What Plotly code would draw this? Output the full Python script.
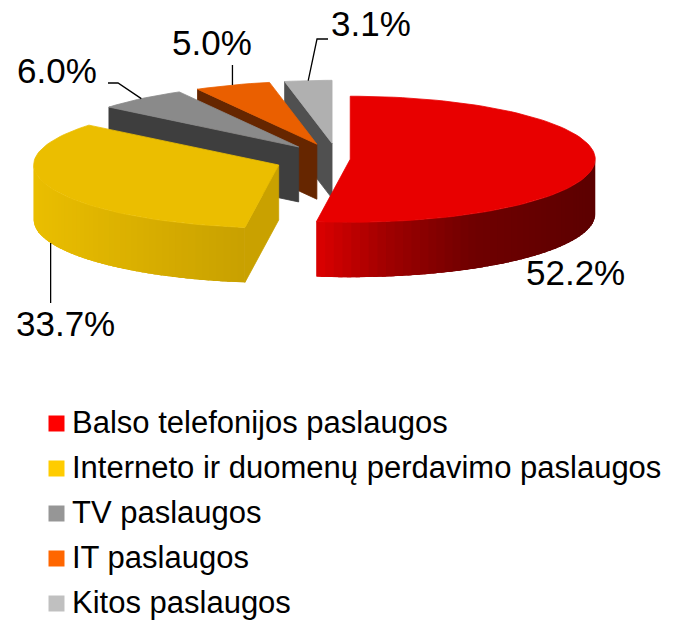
import numpy as np
import plotly.graph_objects as go

# ---------------- data ----------------
labels = ["Balso telefonijos paslaugos",
          "Interneto ir duomenų perdavimo paslaugos",
          "TV paslaugos",
          "IT paslaugos",
          "Kitos paslaugos"]
values = [52.2, 33.7, 6.0, 5.0, 3.1]
pct_text = ["52.2%", "33.7%", "6.0%", "5.0%", "3.1%"]

# ---------------- styles ----------------
legend_colors = ["#FF0000", "#FFCC00", "#969696", "#FF6600", "#C0C0C0"]
top_colors = ["#E80000", "#EBBE00", "#8A8A8A", "#EA5F00", "#B0B0B0"]
cut_colors = ["#B00000", "#C9A100", "#3E3E3E", "#662600", "#505050"]
side_stops = [
    [(0.0, (220, 0, 0)), (0.25, (160, 0, 0)), (0.55, (112, 0, 0)), (1.0, (92, 0, 0))],
    [(0.0, (234, 190, 0)), (1.0, (200, 160, 0))],
    [(0.0, (110, 110, 110)), (1.0, (70, 70, 70))],
    [(0.0, (200, 80, 0)), (1.0, (120, 45, 0))],
    [(0.0, (150, 150, 150)), (1.0, (100, 100, 100))],
]
pull = [0.05, 0.26, 0.25, 0.25, 0.25]

# pie geometry (pixel space of the 683x622 canvas)
W, H = 683, 622
O = (338.0, 159.0)
RX, RY, DEPTH = 245.0, 63.0, 55.0
FONT = "Liberation Sans, Arial, sans-serif"

# label layout: (x left, y middle) and leader elbow points
label_pos = [(524, 272), (14, 323), (15, 70), (170, 42), (329, 23)]
leader_elbows = [
    [],
    ["rimx", 303],
    [(108, 83), (118, 83)],
    ["rimx", 65],
    [(328, 39), (317, 39)],
]
legend_x, legend_text_x = 56.5, 70
legend_y0, legend_dy = 423.5, 45


def interp_color(stops, t):
    t = min(max(t, 0.0), 1.0)
    for (t0, c0), (t1, c1) in zip(stops[:-1], stops[1:]):
        if t <= t1:
            f = 0 if t1 == t0 else (t - t0) / (t1 - t0)
            c = [int(round(a + (b - a) * f)) for a, b in zip(c0, c1)]
            return "rgb(%d,%d,%d)" % tuple(c)
    return "rgb(%d,%d,%d)" % stops[-1][1]


def pt(c, th, dz=0.0):
    r = np.radians(th)
    return c[0] + RX * np.sin(r), c[1] - RY * np.cos(r) + dz


def arc(c, t1, t2, n, dz=0.0):
    ths = np.linspace(t1, t2, n)
    xs = [pt(c, t, dz)[0] for t in ths]
    ys = [pt(c, t, dz)[1] for t in ths]
    return xs, ys


def poly_trace(xs, ys, color, lw=0.8):
    xs = list(xs) + [xs[0]]
    ys = list(ys) + [ys[0]]
    return go.Scatter(x=xs, y=ys, mode="lines", fill="toself",
                      fillcolor=color, line=dict(color=color, width=lw),
                      hoverinfo="skip", showlegend=False)


total = sum(values)
angles = []
acc = 0.0
for v in values:
    a = acc / total * 360.0
    acc += v
    b = acc / total * 360.0
    angles.append((a, b))

centers = []
for (a, b), p in zip(angles, pull):
    m = np.radians((a + b) / 2)
    centers.append((O[0] + p * RX * np.sin(m), O[1] - p * RY * np.cos(m)))

fig = go.Figure()

# draw back-to-front
order = sorted(range(len(values)),
               key=lambda i: -np.cos(np.radians(sum(angles[i]) / 2)))

for i in order:
    a, b = angles[i]
    c = centers[i]
    # radial cut faces
    for edge, normal in ((a, a - 90), (b, b + 90)):
        if np.cos(np.radians(normal - 180)) > 1e-6:
            px, py = pt(c, edge)
            fig.add_trace(poly_trace([c[0], px, px, c[0]],
                                     [c[1], py, py + DEPTH, c[1] + DEPTH],
                                     cut_colors[i]))
    # outer side (front facing part) with horizontal gradient, overlapping strips
    s1, s2 = max(a, 90.0), min(b, 270.0)
    if s2 > s1:
        xl = min(pt(c, s1)[0], pt(c, s2)[0])
        xr = max(pt(c, s1)[0], pt(c, s2)[0])
        nstrip = 48
        edges = np.linspace(s1, s2, nstrip + 1)
        step = edges[1] - edges[0]
        for k in range(nstrip):
            t1 = edges[k]
            t2 = min(edges[k + 1] + 1.5 * step, s2)
            tx, ty = arc(c, t1, t2, 6)
            bx, by = arc(c, t2, t1, 6, DEPTH)
            xm = pt(c, edges[k] + step / 2)[0]
            col = interp_color(side_stops[i], (xm - xl) / (xr - xl))
            fig.add_trace(poly_trace(tx + bx, ty + by, col, lw=0))
    # top face
    ax, ay = arc(c, a, b, max(8, int((b - a) / 2)))
    fig.add_trace(poly_trace([c[0]] + ax, [c[1]] + ay, top_colors[i]))

# leader lines and percentage labels
for i in range(len(values)):
    a, b = angles[i]
    c = centers[i]
    m = (a + b) / 2
    front = np.cos(np.radians(m)) < 0
    rx_, ry_ = pt(c, m, DEPTH if front else 0.0)
    el = leader_elbows[i]
    if el:
        if el[0] == "rimx":
            pts = [(rx_, el[1])]
        else:
            pts = list(el)
        pts.append((rx_, ry_))
        fig.add_trace(go.Scatter(x=[p[0] for p in pts], y=[p[1] for p in pts],
                                 mode="lines", line=dict(color="black", width=1.3),
                                 hoverinfo="skip", showlegend=False))
    fig.add_annotation(x=label_pos[i][0], y=label_pos[i][1], text=pct_text[i],
                       xref="x", yref="y", xanchor="left", yanchor="middle",
                       showarrow=False, font=dict(family=FONT, size=35, color="black"))

# legend (drawn manually)
ly = [legend_y0 + k * legend_dy for k in range(len(labels))]
fig.add_trace(go.Scatter(x=[legend_x] * len(labels), y=ly, mode="markers",
                         marker=dict(symbol="square", size=16, color=legend_colors,
                                     line=dict(width=0)),
                         hoverinfo="skip", showlegend=False))
for k, lab in enumerate(labels):
    fig.add_annotation(x=legend_text_x, y=ly[k] - 1, text=lab, xref="x", yref="y",
                       xanchor="left", yanchor="middle", showarrow=False,
                       font=dict(family=FONT, size=31, color="black"))

fig.update_layout(width=W, height=H, margin=dict(l=0, r=0, t=0, b=0),
                  paper_bgcolor="white", plot_bgcolor="white",
                  xaxis=dict(range=[0, W], visible=False, fixedrange=True),
                  yaxis=dict(range=[H, 0], visible=False, fixedrange=True),
                  showlegend=False)
fig.write_html("out.html", config={"displayModeBar": False},
               post_script="document.body.style.margin='0';document.body.style.overflow='hidden';")
